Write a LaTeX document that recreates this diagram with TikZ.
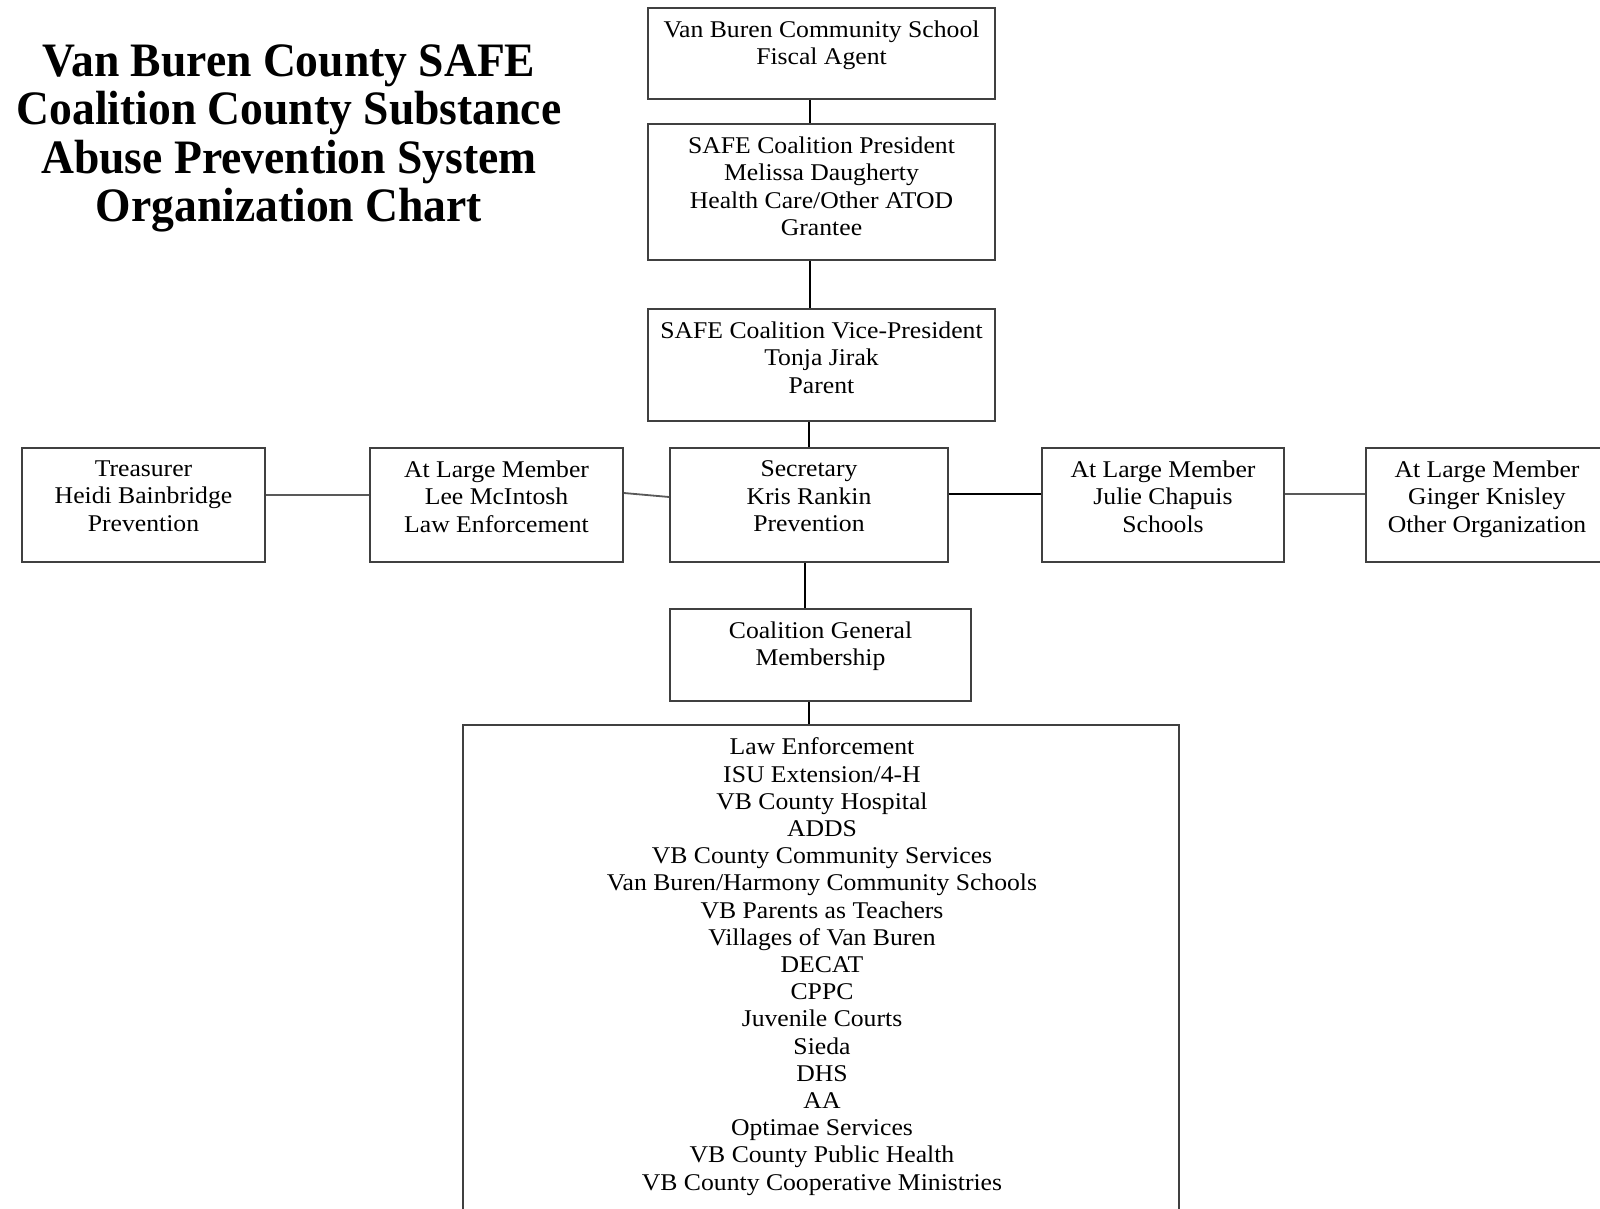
\documentclass[tikz,border=0pt]{standalone}
\usepackage{fontspec}
\setmainfont{Liberation Serif}
\newfontfamily\orgfont[FakeStretch=1.07]{Liberation Serif}
\newfontfamily\ttlfont[FakeStretch=0.95]{Liberation Serif}
\usetikzlibrary{fit}
\begin{document}
\begin{tikzpicture}[x=0.5pt,y=-0.5pt,
  bx/.style={draw=black!75, line width=0.8pt, inner sep=0pt, fill=white},
  tx/.style={anchor=north, inner sep=0pt, align=center, font=\orgfont\fontsize{12}{13.6}\selectfont},
  ln/.style={line width=0.9pt, draw=black},
  gln/.style={line width=0.9pt, draw=black!65}]
\useasboundingbox[fill=white] (0,0) rectangle (1600,1209);

% title
\node[anchor=north, inner sep=0pt, align=center, font=\ttlfont\bfseries\fontsize{24}{24.3}\selectfont] (title) at (289,44)
  {Van Buren County SAFE\\Coalition County Substance\\Abuse Prevention System\\Organization Chart};

% boxes
\node[bx, fit={(648,8) (995,99)}] (fa) {};
\node[bx, fit={(648,124) (995,260)}] (pres) {};
\node[bx, fit={(648,309) (995,421)}] (vp) {};
\node[bx, fit={(22,448) (265,562)}] (tre) {};
\node[bx, fit={(370,448) (623,562)}] (lee) {};
\node[bx, fit={(670,448) (948,562)}] (sec) {};
\node[bx, fit={(1042,448) (1284,562)}] (jul) {};
\node[bx, fit={(1366,448) (1608,562)}] (gin) {};
\node[bx, fit={(670,609) (971,701)}] (cgm) {};
\node[bx, fit={(463,725) (1179,1220)}] (mem) {};

% texts
\node[tx] (fat) at ([yshift=-6.7pt]fa.north) {Van Buren Community School\\Fiscal Agent};
\node[tx] (prest) at ([yshift=-6.7pt]pres.north) {SAFE Coalition President\\Melissa Daugherty\\Health Care/Other ATOD\\Grantee};
\node[tx] (vpt) at ([yshift=-6.7pt]vp.north) {SAFE Coalition Vice-President\\Tonja Jirak\\Parent};
\node[tx] (tret) at ([yshift=-6.7pt]tre.north) {Treasurer\\Heidi Bainbridge\\Prevention};
\node[tx] (leet) at ([yshift=-6.7pt]lee.north) {At Large Member\\Lee McIntosh\\Law Enforcement};
\node[tx] (sect) at ([yshift=-6.7pt]sec.north) {Secretary\\Kris Rankin\\Prevention};
\node[tx] (jult) at ([yshift=-6.7pt]jul.north) {At Large Member\\Julie Chapuis\\Schools};
\node[tx] (gint) at ([yshift=-6.7pt]gin.north) {At Large Member\\Ginger Knisley\\Other Organization};
\node[tx] (cgmt) at ([yshift=-6.7pt]cgm.north) {Coalition General\\Membership};
\node[tx] (memt) at ([yshift=-6.7pt,xshift=0.5pt]mem.north) {Law Enforcement\\ISU Extension/4-H\\VB County Hospital\\ADDS\\VB County Community Services\\Van Buren/Harmony Community Schools\\VB Parents as Teachers\\Villages of Van Buren\\DECAT\\CPPC\\Juvenile Courts\\Sieda\\DHS\\AA\\Optimae Services\\VB County Public Health\\VB County Cooperative Ministries};

% vertical connectors
\draw[ln] ([xshift=-5.75pt]fa.south) -- ([xshift=-5.75pt]pres.north);
\draw[ln] ([xshift=-5.75pt]pres.south) -- ([xshift=-5.75pt]vp.north);
\draw[ln] ([xshift=-6.25pt]vp.south) -- (sec.north);
\draw[ln] ([xshift=-2pt]sec.south) -- ([xshift=-7.75pt]cgm.north);
\draw[ln] ([xshift=-5.75pt]cgm.south) -- ([xshift=-6pt]mem.north);

% horizontal connectors
\draw[gln] ([yshift=5pt]tre.east) -- ([yshift=5pt]lee.west);
\draw[gln] ([yshift=6pt]lee.east) -- ([yshift=4pt]sec.west);
\draw[ln] ([yshift=5.5pt]sec.east) -- ([yshift=5.5pt]jul.west);
\draw[gln] ([yshift=5.5pt]jul.east) -- ([yshift=5.5pt]gin.west);
\end{tikzpicture}
\end{document}
